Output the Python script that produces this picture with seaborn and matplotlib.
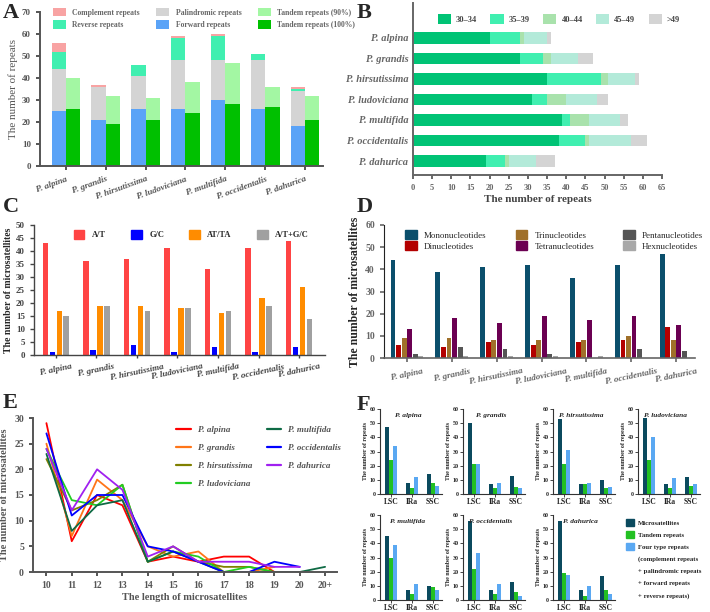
import numpy as np
import pandas as pd
import matplotlib
matplotlib.use('Agg')
import matplotlib.pyplot as plt
import seaborn as sns
from matplotlib.patches import Patch
from matplotlib.lines import Line2D

# --- Data ---
species = ['P. alpina', 'P. grandis', 'P. hirsutissima', 'P. ludoviciana',
           'P. multifida', 'P. occidentalis', 'P. dahurica']

# A: repeat types (left stack) and tandem repeats (right stack)
forward = [25, 21, 26, 26, 30, 26, 18]
palindromic = [19, 15, 15, 22, 18, 22, 16]
reverse = [8, 0, 5, 10, 11, 3, 1]
complement = [4, 1, 0, 1, 1, 0, 1]
tandem100 = [26, 19, 21, 24, 28, 27, 21]
tandem90 = [14, 13, 10, 14, 19, 9, 11]

# B: repeat length classes
len_classes = ['30–34', '35–39', '40–44', '45–49', '>49']
b_30 = [20, 28, 35, 31, 39, 38, 19]
b_35 = [8, 6, 14, 4, 2, 7, 5]
b_40 = [1, 2, 2, 5, 5, 1, 1]
b_45 = [6, 7, 7, 8, 8, 11, 7]
b_49 = [1, 4, 1, 3, 2, 4, 5]

# C: SSR motif types
motif_types = ['A/T', 'G/C', 'AT/TA', 'A/T+G/C']
c_at = [43, 36, 37, 41, 33, 41, 44]
c_gc = [1, 2, 4, 1, 3, 1, 3]
c_atta = [17, 19, 19, 18, 16, 22, 26]
c_atgc = [15, 19, 17, 18, 17, 19, 14]

# D: SSR unit types
unit_types = ['Mononucleotides', 'Dinucleotides', 'Trinucleotides',
              'Tetranucleotides', 'Pentanucleotides', 'Hexnucleotides']
mono = [44, 39, 41, 42, 36, 42, 47]
di = [6, 5, 7, 6, 7, 8, 14]
tri = [9, 9, 8, 8, 8, 10, 8]
tetra = [13, 18, 16, 19, 17, 19, 15]
penta = [2, 5, 4, 2, 0, 4, 3]
hexa = [1, 1, 1, 1, 1, 0, 0]

# E: SSR length distribution
length_labels = ['10', '11', '12', '13', '14', '15', '16', '17', '18', '19', '20', '20+']
e_alpina = [29, 6, 15, 13, 2, 3, 2, 3, 3, 0]
e_grandis = [25, 7, 18, 14, 5, 3, 4, 0, 0, 1]
e_hirsutissima = [22, 12, 14, 17, 2, 5, 2, 1, 1, 0]
e_ludoviciana = [24, 14, 13, 17, 2, 4, 3, 0, 1, 0]
e_multifida = [23, 8, 13, 14, 2, 4, 2, 0, 0, 0, 0, 1]
e_occidentalis = [27, 11, 15, 15, 5, 4, 2, 0, 0, 2, 1]
e_dahurica = [24, 12, 20, 16, 3, 5, 2, 2, 2, 1, 1]

# F: repeats per region
regions = ['LSC', 'IRa', 'SSC']
f_micro = [[47, 8, 14], [50, 7, 13], [53, 7, 10], [54, 7, 12], [45, 7, 10], [56, 7, 13], [56, 7, 17]]
f_tandem = [[24, 4, 8], [21, 4, 5], [21, 7, 4], [24, 4, 6], [30, 4, 9], [22, 4, 6], [19, 3, 7]]
f_four = [[34, 12, 6], [21, 8, 4], [31, 8, 5], [40, 11, 7], [39, 11, 7], [33, 11, 3], [18, 10, 4]]

# --- Style ---
sns.set_style('ticks')
plt.rcParams['font.family'] = ['Liberation Serif', 'DejaVu Serif']
plt.rcParams['axes.linewidth'] = 1.0

W, H = 710, 612
fig = plt.figure(figsize=(7.1, 6.12), dpi=100)


def rect(l, t, r, b):
    return [l / W, 1 - b / H, (r - l) / W, (b - t) / H]


def fpt(x, y):
    return (x / W, 1 - y / H)


def style_axes(ax, color='#555555', lw=1.4):
    sns.despine(ax=ax)
    for s in ['left', 'bottom']:
        ax.spines[s].set_color(color)
        ax.spines[s].set_linewidth(lw)
    ax.tick_params(colors=color, width=lw, length=3)


# panel letters
for letter, (x, y) in zip('ABCDEF', [(3, 3), (357, 3), (3, 197), (357, 197), (3, 393), (357, 395)]):
    fig.text(*fpt(x, y), letter, fontsize=16, weight='bold', va='top', ha='left')

# --- A ---
axA = fig.add_axes(rect(40, 12, 323, 166))
x = np.arange(len(species))
w = 0.36
handlesA = {}
bottom = np.zeros(len(species))
for vals, lab, col in [(forward, 'Forward repeats', '#5aa3f7'),
                       (palindromic, 'Palindromic repeats', '#d4d4d4'),
                       (reverse, 'Reverse repeats', '#40efb0'),
                       (complement, 'Complement repeats', '#f8a3a3')]:
    handlesA[lab] = axA.bar(x - w / 2, vals, w, bottom=bottom, color=col, linewidth=0)
    bottom += np.array(vals)
bottom = np.zeros(len(species))
for vals, lab, col in [(tandem100, 'Tandem repeats (100%)', '#00c000'),
                       (tandem90, 'Tandem repeats (90%)', '#a3f7a3')]:
    handlesA[lab] = axA.bar(x + w / 2, vals, w, bottom=bottom, color=col, linewidth=0)
    bottom += np.array(vals)
axA.set_xlim(-0.65, 6.45)
axA.set_ylim(0, 70)
axA.set_yticks(range(0, 71, 10))
axA.set_xticks(x)
axA.set_xticklabels(species, rotation=20, ha='right', rotation_mode='anchor',
                    style='italic', weight='bold', fontsize=6.5, color='#555555')
for t in axA.get_yticklabels():
    t.set_fontsize(6.5)
    t.set_weight('bold')
axA.set_ylabel('The number of repeats', fontsize=8, color='#555555', labelpad=3)
style_axes(axA)
orderA = ['Complement repeats', 'Reverse repeats', 'Palindromic repeats',
          'Forward repeats', 'Tandem repeats (90%)', 'Tandem repeats (100%)']
fig.legend([handlesA[k] for k in orderA], orderA, ncol=3, loc='upper left',
           bbox_to_anchor=fpt(46, 1), frameon=False,
           labelcolor='#666666', handlelength=1.7, handleheight=1.3,
           columnspacing=2.2, labelspacing=0.5, handletextpad=0.8,
           prop={'weight': 'bold', 'size': 5.5})

# --- B ---
axB = fig.add_axes(rect(413, 3, 662, 175))
y = np.arange(len(species))
left = np.zeros(len(species))
handlesB = []
for vals, col in zip([b_30, b_35, b_40, b_45, b_49],
                     ['#00c375', '#40efb0', '#a9e2ac', '#b3ead9', '#d4d4d4']):
    handlesB.append(axB.barh(y, vals, 0.55, left=left, color=col, linewidth=0))
    left += np.array(vals)
axB.set_ylim(6.68, -1.7)
axB.set_xlim(0, 65)
axB.set_xticks(range(0, 66, 5))
axB.set_yticks(y)
axB.set_yticklabels(species, style='italic', weight='bold', fontsize=7.5, color='#444444')
for t in axB.get_xticklabels():
    t.set_fontsize(6)
    t.set_weight('bold')
axB.set_xlabel('The number of repeats', fontsize=8, weight='bold', color='#444444', labelpad=2)
style_axes(axB, color='#666666')
axB.tick_params(axis='y', length=0)
axB.legend(handlesB, len_classes, ncol=5, loc='upper left', bbox_to_anchor=fpt(430, 7),
           bbox_transform=fig.transFigure, frameon=False,
           handlelength=1.6, handleheight=1.3, columnspacing=1.6, handletextpad=0.6,
           labelcolor='#444444', prop={'weight': 'bold', 'size': 6})

# --- C ---
axC = fig.add_axes(rect(34, 225, 325, 355))
dfC = pd.DataFrame({'species': species * 4,
                    'type': np.repeat(motif_types, len(species)),
                    'count': c_at + c_gc + c_atta + c_atgc})
colorsC = ['#ff4444', '#0000ff', '#ff8c00', '#a0a0a0']
sns.barplot(data=dfC, x='species', y='count', hue='type', palette=colorsC,
            width=0.68, gap=0.2, legend=False, ax=axC, linewidth=0, saturation=1)
axC.set_xlim(-0.54, 6.64)
axC.set_ylim(0, 50)
axC.set_yticks(range(0, 51, 5))
axC.set_xlabel('')
axC.set_ylabel('The number of microsatellites', fontsize=7, weight='bold', labelpad=2)
axC.set_xticks(range(len(species)))
axC.set_xticklabels(species, rotation=12, ha='center', style='italic', weight='bold', fontsize=6.5)
for t in axC.get_yticklabels():
    t.set_fontsize(6.5)
    t.set_weight('bold')
style_axes(axC, color='#444444', lw=1.0)
axC.tick_params(axis='x', length=2)
axC.legend([Patch(color=c) for c in colorsC], motif_types, ncol=4, loc='upper left',
           bbox_to_anchor=fpt(66, 222), bbox_transform=fig.transFigure, frameon=False,
           handlelength=1.3, handleheight=1.4, columnspacing=3.0, handletextpad=0.9,
           prop={'weight': 'bold', 'size': 6})

# --- D ---
axD = fig.add_axes(rect(384, 225, 695, 358))
dfD = pd.DataFrame({'species': species * 6,
                    'type': np.repeat(unit_types, len(species)),
                    'count': mono + di + tri + tetra + penta + hexa})
colorsD = ['#0b4f6c', '#b30000', '#a0702a', '#6b0052', '#555555', '#a8a8a8']
sns.barplot(data=dfD, x='species', y='count', hue='type', palette=colorsD,
            width=0.74, gap=0.12, legend=False, ax=axD, linewidth=0, saturation=1)
axD.set_xlim(-0.51, 6.42)
axD.set_ylim(0, 60)
axD.set_yticks(range(0, 61, 10))
axD.set_xlabel('')
axD.set_ylabel('The number of microsatellites', fontsize=8.5, weight='bold', labelpad=3)
axD.set_xticks(range(len(species)))
axD.set_xticklabels(species, rotation=12, ha='center', style='italic', weight='bold', fontsize=6.5)
for t in axD.get_yticklabels():
    t.set_fontsize(7)
    t.set_weight('bold')
style_axes(axD, color='#666666', lw=1.2)
axD.spines['left'].set_color('#222222')
axD.spines['left'].set_linewidth(0.8)
axD.legend([Patch(color=c) for c in colorsD], unit_types, ncol=3, loc='upper left',
           bbox_to_anchor=fpt(397, 222), bbox_transform=fig.transFigure, frameon=False,
           handlelength=1.3, handleheight=1.1, columnspacing=3.2, handletextpad=0.8,
           labelspacing=0.2, prop={'size': 6.5})

# --- E ---
axE = fig.add_axes(rect(33, 418, 337, 572))
series_E = [e_alpina, e_grandis, e_hirsutissima, e_ludoviciana,
            e_multifida, e_occidentalis, e_dahurica]
rows = []
for sp, vals in zip(species, series_E):
    for i, v in enumerate(vals):
        rows.append({'species': sp, 'pos': i, 'count': v})
dfE = pd.DataFrame(rows)
colorsE = ['#ff0000', '#ff7518', '#808000', '#22cc22', '#0f6b45', '#0000ff', '#a020f0']
sns.lineplot(data=dfE, x='pos', y='count', hue='species', palette=colorsE,
             hue_order=species, linewidth=1.3, legend=False, ax=axE)
axE.set_xlim(-0.53, 11.47)
axE.set_ylim(0, 30)
axE.set_yticks(range(0, 31, 5))
axE.set_xticks(range(len(length_labels)))
axE.set_xticklabels(length_labels, weight='bold', fontsize=7)
for t in axE.get_yticklabels():
    t.set_fontsize(7)
    t.set_weight('bold')
axE.set_xlabel('The length of microsatellites', fontsize=7.5, weight='bold', color='#555555', labelpad=2)
axE.set_ylabel('The number of microsatellites', fontsize=7.5, weight='bold', color='#555555', labelpad=4)
style_axes(axE, color='#555555', lw=1.4)
axE.legend([Line2D([], [], color=c, lw=1.6) for c in colorsE], species, ncol=2,
           loc='upper left', bbox_to_anchor=fpt(168, 418), bbox_transform=fig.transFigure,
           frameon=False, handlelength=1.6, labelspacing=1.05, columnspacing=1.6,
           handletextpad=0.8, labelcolor='#555555',
           prop={'style': 'italic', 'weight': 'bold', 'size': 6.5})

# --- F ---
colorsF = ['#0b4a5e', '#22c022', '#5aa8f2']
boxesF = [(380, 409), (463, 409), (553, 409), (638, 409),
          (380, 515), (463, 515), (553, 515)]
for k, (sp, (l, t)) in enumerate(zip(species, boxesF)):
    ax = fig.add_axes(rect(l, t, l + 62, t + 85))
    dfF = pd.DataFrame({'region': regions * 3,
                        'kind': np.repeat(['Microsatellites', 'Tandem repeats', 'Four type repeats'], 3),
                        'count': f_micro[k] + f_tandem[k] + f_four[k]})
    sns.barplot(data=dfF, x='region', y='count', hue='kind', palette=colorsF,
                width=0.56, gap=0, legend=False, ax=ax, linewidth=0, saturation=1)
    ax.set_xlim(-0.52, 2.43)
    ax.set_ylim(0, 60)
    ax.set_yticks(range(0, 61, 10))
    ax.set_xlabel('')
    ax.set_ylabel('The number of repeats', fontsize=4.3, weight='bold', labelpad=1)
    ax.set_xticks(range(3))
    ax.set_xticklabels(regions, fontsize=5.5, weight='bold')
    for tl in ax.get_yticklabels():
        tl.set_fontsize(4.3)
        tl.set_weight('bold')
    sns.despine(ax=ax)
    for s in ['left', 'bottom']:
        ax.spines[s].set_linewidth(0.8)
        ax.spines[s].set_color('#333333')
    ax.tick_params(width=0.6, length=2, pad=1)
    ax.text(0.45, 0.95, sp, transform=ax.transAxes, ha='center', va='top',
            style='italic', weight='bold', fontsize=5.3)

labelsF = ['Microsatellites', 'Tandem repeats', 'Four type repeats',
           '(complement repeats', '+ palindromic repeats', '+ forward repeats', '+ reverse repeats)']
handlesF = [Patch(color=c) for c in colorsF] + [Patch(color='none') for _ in range(4)]
fig.legend(handlesF, labelsF, loc='upper left', bbox_to_anchor=fpt(622, 515),
           frameon=False, handlelength=1.2, handleheight=1.2, labelspacing=0.75,
           handletextpad=0.6, borderaxespad=0.2, prop={'weight': 'bold', 'size': 4.9})

fig.savefig('out.png', dpi=100)
